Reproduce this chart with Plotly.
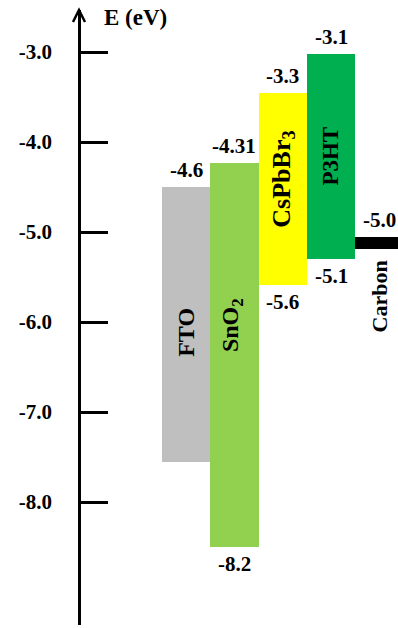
import plotly.graph_objects as go

# ---- data ----
materials = ["FTO", "SnO<sub>2</sub>", "CsPbBr<sub>3</sub>", "P3HT", "Carbon"]
top_ev = [-4.50, -4.23, -3.46, -3.02, -5.06]
bottom_ev = [-7.56, -8.50, -5.59, -5.30, -5.19]
top_labels = ["-4.6", "-4.31", "-3.3", "-3.1", "-5.0"]
bottom_labels = ["", "-8.2", "-5.6", "-5.1", ""]
bar_colors = ["#bfbfbf", "#92d050", "#ffff00", "#00b050", "#000000"]
tick_vals = [-3.0, -4.0, -5.0, -6.0, -7.0, -8.0]
tick_text = ["-3.0", "-4.0", "-5.0", "-6.0", "-7.0", "-8.0"]

W, H = 398, 628
FONT = "Liberation Serif"

xs = list(range(len(materials)))
heights = [t - b for t, b in zip(top_ev, bottom_ev)]

fig = go.Figure()
fig.add_trace(go.Bar(
    x=xs, y=heights, base=bottom_ev, width=1.0,
    marker=dict(color=bar_colors, line=dict(width=0)),
    hoverinfo="skip", showlegend=False,
))

ann = []
lab_font = dict(family=FONT, size=21, color="black", weight="bold")
for i in xs:
    if top_labels[i]:
        ann.append(dict(x=i, y=top_ev[i], xref="x", yref="y", text=top_labels[i],
                        showarrow=False, yanchor="bottom", yshift=3, font=lab_font))
    if bottom_labels[i]:
        ann.append(dict(x=i, y=bottom_ev[i], xref="x", yref="y", text=bottom_labels[i],
                        showarrow=False, yanchor="top", yshift=-3, font=lab_font))

# rotated material names
name_pos = [(0, -6.12, 0, 24), (1, -6.03, -3, 24), (2, -4.41, 0, 26), (3, -4.16, -1, 23), (4, -5.72, 0, 22)]
for i, (xi, yv, xsh, fs) in enumerate(name_pos):
    ann.append(dict(x=xi, y=yv, xref="x", yref="y", text=materials[i], textangle=-90,
                    showarrow=False, xshift=xsh,
                    font=dict(family=FONT, size=fs, color="black", weight="bold")))

# axis title
ann.append(dict(x=102 / W, y=1 - 18 / H, xref="paper", yref="paper", text="E (eV)",
                showarrow=False, xanchor="left", yanchor="middle",
                font=dict(family=FONT, size=23, color="black", weight="bold")))

ax_x = 79 / W
shapes = [dict(type="path", xref="paper", yref="paper",
               path=f"M {73/W} {1-22/H} L {ax_x} {1-10/H} L {85/W} {1-22/H}",
               line=dict(color="black", width=2.5))]

y_top_px, y_bot_px = 10, 625
fig.update_layout(
    width=W, height=H,
    margin=dict(l=0, r=0, t=0, b=0),
    plot_bgcolor="white", paper_bgcolor="white",
    bargap=0,
    annotations=ann, shapes=shapes,
    xaxis=dict(range=[-186 / 48.4, (W - 186) / 48.4], visible=False, domain=[0, 1]),
    yaxis=dict(
        domain=[1 - y_bot_px / H, 1 - y_top_px / H],
        range=[-3 - (y_bot_px - 52) / 90, -3 + (52 - y_top_px) / 90],
        anchor="free", position=ax_x, side="left",
        showline=True, linecolor="black", linewidth=2.5,
        ticks="inside", ticklen=27, tickwidth=2.5, tickcolor="black",
        tickvals=tick_vals, ticktext=tick_text,
        ticklabelstandoff=22,
        tickfont=dict(family=FONT, size=21, color="black", weight="bold"),
        showgrid=False, zeroline=False,
    ),
)

fig.write_html("out.html", config={"displayModeBar": False},
               post_script="document.body.style.margin='0';document.body.style.overflow='hidden';")
